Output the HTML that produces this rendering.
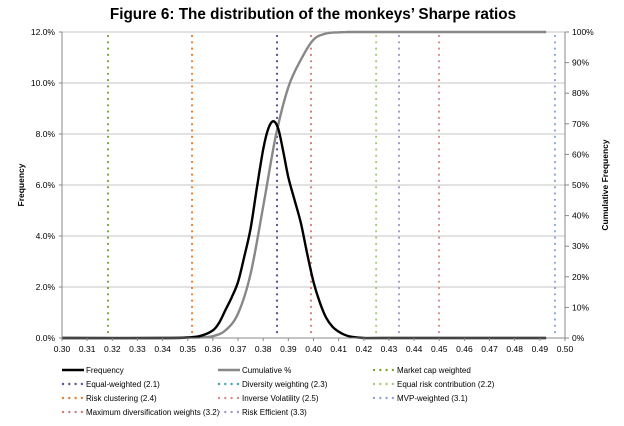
<!DOCTYPE html>
<html><head><meta charset="utf-8"><style>
body{margin:0;background:#fff;}
svg{display:block;font-family:"Liberation Sans",Arial,sans-serif;}
</style></head><body>
<svg id="chart" width="624" height="426" viewBox="0 0 624 426" xmlns="http://www.w3.org/2000/svg">
<text x="313" y="19" text-anchor="middle" font-size="15.3" font-weight="bold" fill="#000">Figure 6: The distribution of the monkeys’ Sharpe ratios</text>
<g id="grid"></g>
<g id="vlines"></g>
<g id="series"></g>
<g id="axes"></g>
<g id="legend"></g>
</svg>
<script>
const xTicks=[0.30,0.31,0.32,0.33,0.34,0.35,0.36,0.37,0.38,0.39,0.40,0.41,0.42,0.43,0.44,0.45,0.46,0.47,0.48,0.49,0.50];
const leftTicks=[0,2,4,6,8,10,12];
const rightTicks=[0,10,20,30,40,50,60,70,80,90,100];
const freqX=[0.30,0.34,0.35,0.355,0.36,0.3625,0.365,0.3675,0.37,0.3725,0.375,0.3775,0.38,0.382,0.384,0.386,0.388,0.39,0.3925,0.395,0.3975,0.40,0.4025,0.405,0.4075,0.41,0.4125,0.415,0.42,0.43,0.4925];
const freqY=[0,0,0.02,0.08,0.3,0.6,1.1,1.6,2.2,3.2,4.3,5.9,7.4,8.2,8.5,8.2,7.3,6.3,5.4,4.5,3.3,2.2,1.4,0.8,0.45,0.25,0.12,0.05,0,0,0];
const cumX=[0.30,0.34,0.35,0.355,0.36,0.365,0.37,0.375,0.38,0.385,0.39,0.395,0.40,0.405,0.41,0.415,0.42,0.4925];
const cumY=[0,0,0.1,0.2,0.6,2.5,8,21,43,66,82,91,97.5,99.5,99.9,100,100,100];
const markerNames=["Market cap weighted","Equal-weighted (2.1)","Diversity weighting (2.3)","Equal risk contribution (2.2)","Risk clustering (2.4)","Inverse Volatility (2.5)","MVP-weighted (3.1)","Maximum diversification weights (3.2)","Risk Efficient (3.3)"];
const markerValues=[0.3183,0.3855,0.3855,0.4249,0.3517,0.4499,0.496,0.399,0.434];
const markerColors=["#77a33a","#6a4c93","#3aa5b5","#a9c97a","#e87d2c","#dc8a8a","#8ba6d6","#d47a7a","#a596c8"];
const NS="http://www.w3.org/2000/svg";
const L=62,R=565,T=32,B=338;
const xs=v=>L+(v-0.30)/0.20*(R-L);
const yl=v=>B-v/12*(B-T);
const yr=v=>B-v/100*(B-T);
function mk(tag,attrs,parent,txt){const e=document.createElementNS(NS,tag);for(const k in attrs)e.setAttribute(k,attrs[k]);if(txt!==undefined)e.textContent=txt;parent.appendChild(e);return e;}
function smooth(pts){let d='M'+pts[0][0]+','+pts[0][1];for(let i=0;i<pts.length-1;i++){const p0=pts[i-1]||pts[i],p1=pts[i],p2=pts[i+1],p3=pts[i+2]||p2;const c1=[p1[0]+(p2[0]-p0[0])/6,p1[1]+(p2[1]-p0[1])/6],c2=[p2[0]-(p3[0]-p1[0])/6,p2[1]-(p3[1]-p1[1])/6];d+=' C'+c1+' '+c2+' '+p2;}return d;}
const grid=document.getElementById('grid'),axes=document.getElementById('axes'),vl=document.getElementById('vlines'),ser=document.getElementById('series'),leg=document.getElementById('legend');
leftTicks.forEach(t=>{
  if(t>0){const g=mk('line',{x1:L,x2:R,y1:yl(t),y2:yl(t),stroke:'#c4c4c4','stroke-width':1},grid);
  
  }
  const tx=mk('text',{x:L-7,y:yl(t)+3,'text-anchor':'end','font-size':8.5,fill:'#000'},axes,t.toFixed(1)+'%');
  
  
  mk('line',{x1:L-3,x2:L,y1:yl(t),y2:yl(t),stroke:'#888'},axes);
});
rightTicks.forEach(t=>{
  mk('line',{x1:R,x2:R+4,y1:yr(t),y2:yr(t),stroke:'#888'},axes);
  const tx=mk('text',{x:R+7,y:yr(t)+3,'font-size':8.5,fill:'#000'},axes,t+'%');
  
  
});
xTicks.forEach(t=>{
  mk('line',{x1:xs(t),x2:xs(t),y1:B,y2:B+3,stroke:'#888'},axes);
  const tx=mk('text',{x:xs(t),y:352,'text-anchor':'middle','font-size':8.5,fill:'#000'},axes,t.toFixed(2));
  
  
});
mk('line',{x1:L,x2:L,y1:T,y2:B,stroke:'#888'},axes);
mk('line',{x1:R,x2:R,y1:T,y2:B,stroke:'#888'},axes);
mk('line',{x1:L,x2:R,y1:B,y2:B,stroke:'#888'},axes);
const yt=mk('text',{x:0,y:0,transform:'translate(24,185) rotate(-90)','text-anchor':'middle','font-size':8.5,'font-weight':'bold'},axes,'Frequency');


const yt2=mk('text',{x:0,y:0,transform:'translate(608,185) rotate(-90)','text-anchor':'middle','font-size':8.5,'font-weight':'bold'},axes,'Cumulative Frequency');


const drawOrder=[2,0,1,3,4,5,6,7,8];
drawOrder.forEach(i=>{
  const v=markerValues[i];
  const l=mk('line',{x1:xs(v),x2:xs(v),y1:36,y2:B,stroke:markerColors[i],'stroke-width':2.2,'stroke-dasharray':'0 6.3','stroke-linecap':'round'},vl);
  
  
});
const cp=mk('path',{d:smooth(cumX.map((x,i)=>[xs(x),yr(cumY[i])])),fill:'none',stroke:'#888','stroke-width':2.4},ser);


const fp=mk('path',{d:smooth(freqX.map((x,i)=>[xs(x),yl(freqY[i])])),fill:'none',stroke:'#000','stroke-width':2.4},ser);


const colX=[62,218,373],rowY=[373,387,401,415];
function legItem(col,row,label,kind,color){
  const g=mk('g',{},leg);
  
  
  const x=colX[col],y=rowY[row];
  if(kind==='line')mk('line',{x1:x,x2:x+22,y1:y-3,y2:y-3,stroke:color,'stroke-width':2.4},g);
  else mk('line',{x1:x+1,x2:x+22,y1:y-3,y2:y-3,stroke:color,'stroke-width':2.4,'stroke-dasharray':'0 6.3','stroke-linecap':'round'},g);
  mk('text',{x:x+24,y:y,'font-size':8,fill:'#000'},g,label);
}
legItem(0,0,'Frequency','line','#000');
legItem(1,0,'Cumulative %','line','#888');
const order=[[2,0],[0,1],[1,1],[2,1],[0,2],[1,2],[2,2],[0,3],[1,3]];
markerNames.forEach((n,i)=>legItem(order[i][0],order[i][1],n,'dots',markerColors[i]));
</script>
</body></html>
